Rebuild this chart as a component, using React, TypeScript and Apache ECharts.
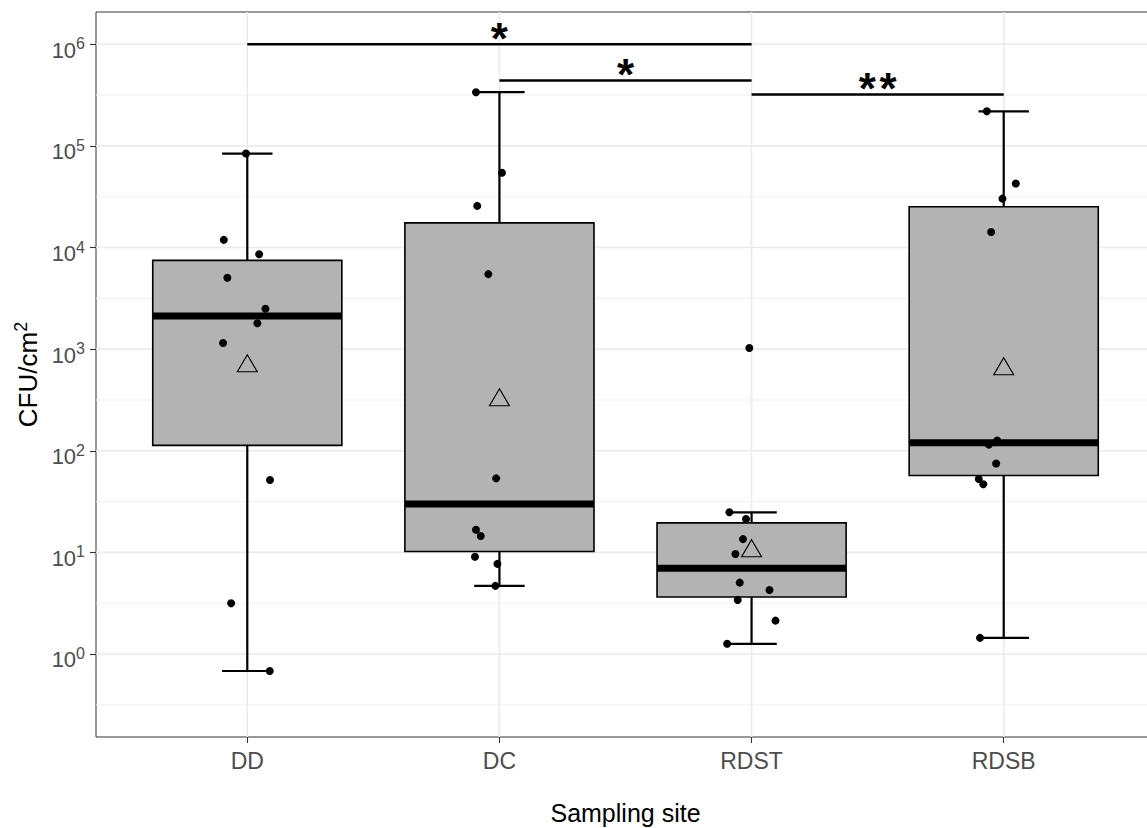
import React, { useEffect, useRef } from 'react';
import * as echarts from 'echarts';

// ---- data (CFU/cm², log10 axis) ----
const sites = ['DD', 'DC', 'RDST', 'RDSB'];
const exponents = [0, 1, 2, 3, 4, 5, 6];
const minorExponents = [-0.5, 0.5, 1.5, 2.5, 3.5, 4.5, 5.5];
const sitePositions = [1, 2, 3, 4];

// box statistics per site
const whiskerLow = [0.68, 4.68, 1.26, 1.44];
const quartile1 = [113, 10.2, 3.64, 57];
const medians = [2120, 30, 6.97, 120];
const quartile3 = [7480, 17500, 19.5, 25200];
const whiskerHigh = [84100, 338000, 24.8, 219000];
const geoMeans = [725, 336, 11.0, 680];

// jittered observations: x position (category units) and CFU/cm²
const ddJitter = [0.995, 0.907, 1.047, 0.921, 1.072, 1.04, 0.904, 1.09, 0.936, 1.089];
const ddCfu = [84100, 11900, 8590, 5040, 2500, 1800, 1150, 51.6, 3.16, 0.68];
const dcJitter = [1.907, 2.01, 1.912, 1.956, 1.987, 1.907, 1.926, 1.903, 1.992, 1.984];
const dcCfu = [338000, 54500, 25700, 5470, 53.5, 16.7, 14.5, 9.06, 7.71, 4.68];
const rdstJitter = [2.991, 2.912, 2.978, 2.966, 2.936, 2.953, 3.071, 2.945, 3.095, 2.903];
const rdstCfu = [1028, 24.8, 21.3, 13.5, 9.64, 5.04, 4.27, 3.4, 2.13, 1.26];
const rdsbJitter = [3.933, 4.048, 3.995, 3.95, 3.974, 3.941, 3.97, 3.901, 3.919, 3.906];
const rdsbCfu = [219000, 42700, 30300, 14200, 126, 115, 74.8, 52.8, 46.8, 1.44];

// significance brackets
const sigFrom = [1, 2, 3];
const sigTo = [3, 3, 4];
const sigHeight = [1000000, 440000, 320000];
const sigLabels = ['*', '*', '**'];

const FONT = "'Liberation Sans', Arial, Helvetica, sans-serif";
const lg = (v: number) => Math.log10(v);

export default function App() {
  const ref = useRef<HTMLDivElement>(null);

  useEffect(() => {
    document.body.style.margin = '0';
    if (!ref.current) return;
    const chart = echarts.init(ref.current, undefined, { renderer: 'svg' });

    const gridData: number[][] = [
      ...exponents.map((e) => [0, e]),
      ...minorExponents.map((e) => [1, e]),
      ...sitePositions.map((x) => [2, x]),
    ];
    const boxData = sites.map((_, i) => [
      sitePositions[i],
      lg(whiskerLow[i]),
      lg(quartile1[i]),
      lg(medians[i]),
      lg(quartile3[i]),
      lg(whiskerHigh[i]),
    ]);
    const jit = [ddJitter, dcJitter, rdstJitter, rdsbJitter];
    const cfu = [ddCfu, dcCfu, rdstCfu, rdsbCfu];
    const pointData: number[][] = [];
    jit.forEach((xs, s) => xs.forEach((x, k) => pointData.push([x, lg(cfu[s][k])])));
    const meanData = sites.map((_, i) => [sitePositions[i], lg(geoMeans[i])]);
    const sigData = sigFrom.map((f, i) => [f, lg(sigHeight[i]), sigTo[i], i]);

    const option: any = {
      animation: false,
      textStyle: { fontFamily: FONT },
      grid: {
        left: 96,
        top: 12,
        width: 1059,
        height: 725,
        show: true,
        borderColor: '#333333',
        borderWidth: 1,
        backgroundColor: 'transparent',
        containLabel: false,
        outerBoundsMode: 'none',
      },
      xAxis: {
        type: 'value',
        min: 0.4,
        max: 4.6,
        axisLine: { show: false, onZero: false },
        splitLine: { show: false },
        axisTick: {
          show: true,
          customValues: sitePositions,
          length: 6,
          lineStyle: { color: '#333333', width: 1.1 },
        },
        axisLabel: {
          customValues: sitePositions,
          formatter: (v: number) => sites[Math.round(v) - 1],
          fontSize: 23,
          color: '#4D4D4D',
          margin: 12,
          fontFamily: FONT,
        },
        name: 'Sampling site',
        nameLocation: 'middle',
        nameGap: 65,
        nameTextStyle: { fontSize: 25, lineHeight: 22, color: '#000000', fontFamily: FONT },
      },
      yAxis: {
        type: 'value',
        min: -0.817,
        max: 6.318,
        axisLine: { show: false, onZero: false },
        splitLine: { show: false },
        axisTick: {
          show: true,
          customValues: exponents,
          length: 6,
          lineStyle: { color: '#333333', width: 1.1 },
        },
        axisLabel: {
          customValues: exponents,
          formatter: (v: number) => `{b|10}{s|${Math.round(v)}}`,
          margin: 11,
          rich: {
            b: { fontSize: 22, color: '#4D4D4D', fontFamily: FONT, padding: [12, 0, 0, 0] },
            s: { fontSize: 16, color: '#4D4D4D', fontFamily: FONT, padding: [0, 0, 1, 0] },
          },
        },
        name: '{a|CFU/cm}{b|2}',
        nameLocation: 'middle',
        nameRotate: 90,
        nameGap: 52,
        nameTextStyle: {
          rich: {
            a: { fontSize: 26, color: '#000000', fontFamily: FONT },
            b: { fontSize: 18, color: '#000000', fontFamily: FONT, padding: [0, 0, 13, 0] },
          },
        },
      },
      series: [
        {
          type: 'custom',
          name: 'grid',
          silent: true,
          z: 0,
          data: gridData,
          renderItem: (params: any, api: any) => {
            const cs = params.coordSys;
            const kind = api.value(0);
            const v = api.value(1);
            if (kind === 2) {
              const x = api.coord([v, 0])[0];
              return {
                type: 'line',
                shape: { x1: x, y1: cs.y, x2: x, y2: cs.y + cs.height },
                style: { stroke: '#EBEBEB', lineWidth: 1.6 },
              };
            }
            const y = api.coord([1, v])[1];
            return {
              type: 'line',
              shape: { x1: cs.x, y1: y, x2: cs.x + cs.width, y2: y },
              style: { stroke: kind === 0 ? '#EBEBEB' : '#F2F2F2', lineWidth: kind === 0 ? 1.6 : 1.1 },
            };
          },
        },
        {
          type: 'custom',
          name: 'boxes',
          silent: true,
          z: 2,
          data: boxData,
          renderItem: (params: any, api: any) => {
            const x = api.value(0);
            const cx = api.coord([x, 0])[0];
            const yLo = api.coord([x, api.value(1)])[1];
            const yQ1 = api.coord([x, api.value(2)])[1];
            const yMed = api.coord([x, api.value(3)])[1];
            const yQ3 = api.coord([x, api.value(4)])[1];
            const yHi = api.coord([x, api.value(5)])[1];
            const half = api.size([0.75, 0])[0] / 2;
            const cap = api.size([0.2, 0])[0] / 2;
            const ws = { stroke: '#000000', lineWidth: 2.2 };
            return {
              type: 'group',
              children: [
                { type: 'line', shape: { x1: cx, y1: yHi, x2: cx, y2: yLo }, style: ws },
                { type: 'line', shape: { x1: cx - cap, y1: yHi, x2: cx + cap, y2: yHi }, style: ws },
                { type: 'line', shape: { x1: cx - cap, y1: yLo, x2: cx + cap, y2: yLo }, style: ws },
                {
                  type: 'rect',
                  shape: { x: cx - half, y: yQ3, width: half * 2, height: yQ1 - yQ3 },
                  style: { fill: '#B3B3B3', stroke: '#000000', lineWidth: 1.6 },
                },
                {
                  type: 'line',
                  shape: { x1: cx - half, y1: yMed, x2: cx + half, y2: yMed },
                  style: { stroke: '#000000', lineWidth: 7 },
                },
              ],
            };
          },
        },
        {
          type: 'scatter',
          name: 'observations',
          silent: true,
          z: 3,
          symbol: 'circle',
          symbolSize: 8,
          itemStyle: { color: '#000000', opacity: 1 },
          data: pointData,
        },
        {
          type: 'scatter',
          name: 'mean',
          silent: true,
          z: 4,
          symbol: 'triangle',
          symbolSize: [20, 17],
          itemStyle: { color: 'rgba(0,0,0,0)', borderColor: '#000000', borderWidth: 1.1, opacity: 1 },
          data: meanData,
        },
        {
          type: 'custom',
          name: 'significance',
          silent: true,
          z: 5,
          data: sigData,
          renderItem: (params: any, api: any) => {
            const p1 = api.coord([api.value(0), api.value(1)]);
            const p2 = api.coord([api.value(2), api.value(1)]);
            const label = sigLabels[api.value(3)];
            const mid = (p1[0] + p2[0]) / 2;
            const n = label.length;
            const stars = [];
            for (let k = 0; k < n; k++) {
              stars.push({
                type: 'text',
                x: mid + (k - (n - 1) / 2) * 20.7,
                y: p1[1] - 6,
                style: {
                  text: '*',
                  fontSize: 44,
                  fontWeight: 'bold',
                  fontFamily: FONT,
                  fill: '#000000',
                  align: 'center',
                  verticalAlign: 'middle',
                },
              });
            }
            return {
              type: 'group',
              children: [
                { type: 'line', shape: { x1: p1[0], y1: p1[1], x2: p2[0], y2: p2[1] }, style: { stroke: '#000000', lineWidth: 2.5 } },
                ...stars,
              ],
            };
          },
        },
      ],
    };

    chart.setOption(option);
    return () => chart.dispose();
  }, []);

  return (
    <div
      ref={ref}
      style={{ position: 'absolute', left: 0, top: 0, width: 1147, height: 828, background: '#ffffff' }}
    />
  );
}
